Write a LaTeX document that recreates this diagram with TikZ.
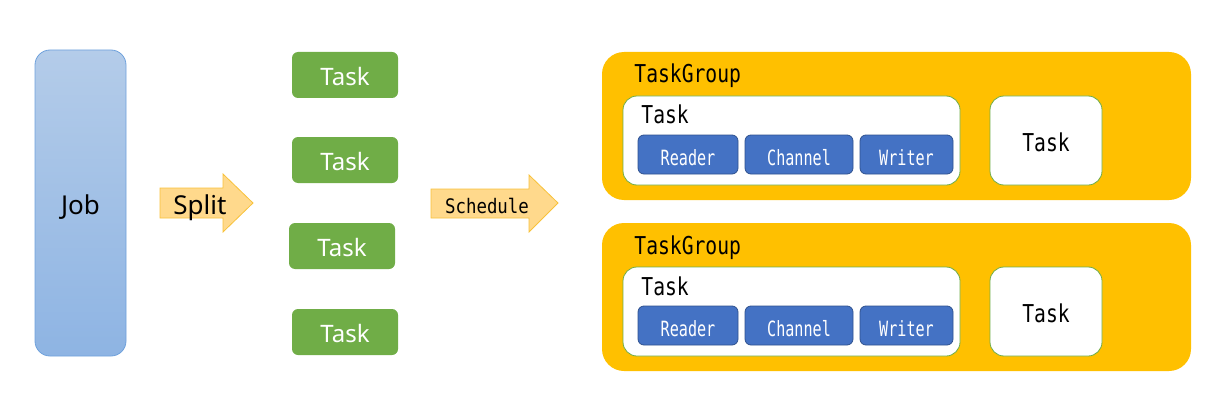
\documentclass[tikz,border=0pt]{standalone}
\usepackage{fontspec}
\setmainfont{Noto Sans}
\newfontfamily\monofont[FakeStretch=0.8]{DejaVu Sans Mono}
\newfontfamily\partfont[FakeStretch=0.72]{DejaVu Sans Mono}
\newfontfamily\schedfont[FakeStretch=0.87]{DejaVu Sans Mono}
\usepackage{tikz}
\usetikzlibrary{positioning}
\definecolor{jobtop}{HTML}{B4CCE9}
\definecolor{jobbottom}{HTML}{8EB4E3}
\definecolor{jobline}{HTML}{6FA1DC}
\definecolor{taskgreen}{HTML}{70AD47}
\definecolor{groupyellow}{HTML}{FFC000}
\definecolor{partblue}{HTML}{4472C4}
\definecolor{partline}{HTML}{2F528F}
\definecolor{arrowfill}{HTML}{FFD98C}
\definecolor{arrowline}{HTML}{F8C23A}
\tikzset{x=0.5pt, y=-0.5pt, font=\fontsize{12}{12}\selectfont}
\tikzstyle{job} = [draw=jobline, top color=jobtop, bottom color=jobbottom, rounded corners=7.5pt, minimum width=45.5pt, minimum height=153pt, inner sep=0pt, text height=11.3pt, text depth=0pt, font=\fontsize{13}{13}\selectfont]
\tikzstyle{task} = [fill=taskgreen, rounded corners=3pt, minimum width=53pt, minimum height=23pt, inner sep=0pt, text height=10.6pt, text depth=0pt, text=white]
\tikzstyle{group} = [fill=groupyellow, rounded corners=11pt, minimum width=294.5pt, minimum height=74pt, inner sep=0pt]
\tikzstyle{subtask} = [draw=taskgreen, fill=white, rounded corners=7pt, minimum height=44.5pt, inner sep=0pt, text height=11pt, text depth=0pt, font=\monofont\fontsize{12.3}{12.3}\selectfont]
\tikzstyle{stage} = [draw=partline, fill=partblue, rounded corners=3pt, minimum height=19.5pt, inner sep=0pt, text height=10.65pt, text depth=0pt, text=white, font=\partfont\fontsize{10.5}{10.5}\selectfont]
\tikzstyle{bigarrow} = [draw=arrowline, fill=arrowfill]
\tikzstyle{grouplabel} = [inner sep=0pt, anchor=base west, font=\monofont\fontsize{12.3}{12.3}\selectfont]

\begin{document}
\begin{tikzpicture}
	\useasboundingbox (0,0) rectangle (1219,401);
	\node [job] (job) at (80.5,203) {Job};

	\draw [bigarrow] (160,188) -- (223,188) -- (223,174) -- (253,203) -- (223,232) -- (223,218) -- (160,218) -- cycle;
	\node [inner sep=0pt, text height=9.3pt, text depth=0pt, font=\fontsize{13}{13}\selectfont] (split) at (200,205) {Split};

	\foreach \i/\x/\y in {1/345/75, 2/345/160, 3/342/246, 4/345/332}
		\node [task] (task\i) at (\x,\y) {Task};

	\draw [bigarrow] (431,189) -- (529,189) -- (529,175) -- (558,203) -- (529,232) -- (529,218) -- (431,218) -- cycle;
	\node [inner sep=0pt, text height=7.3pt, text depth=0pt, font=\schedfont\fontsize{10}{10}\selectfont] (schedule) at (487,206) {Schedule};

	\foreach \g/\dy in {1/0, 2/171} {
		\node [group] (group\g) at (896.5,{126+\dy}) {};
		\node [grouplabel] (grouptitle\g) at (634,{83+\dy}) {TaskGroup};
		\node [subtask, minimum width=168.5pt] (inner\g) at (791.5,{140.5+\dy}) {};
		\node [grouplabel] (innertitle\g) at (641,{124+\dy}) {Task};
		\node [stage, minimum width=50pt] (reader\g) at (688,{154.5+\dy}) {Reader};
		\node [stage, minimum width=54pt] (channel\g) at (799,{154.5+\dy}) {Channel};
		\node [stage, minimum width=46.5pt] (writer\g) at (906.5,{154.5+\dy}) {Writer};
		\node [subtask, minimum width=56pt] (other\g) at (1046,{140.5+\dy}) {Task};
	}
\end{tikzpicture}
\end{document}
